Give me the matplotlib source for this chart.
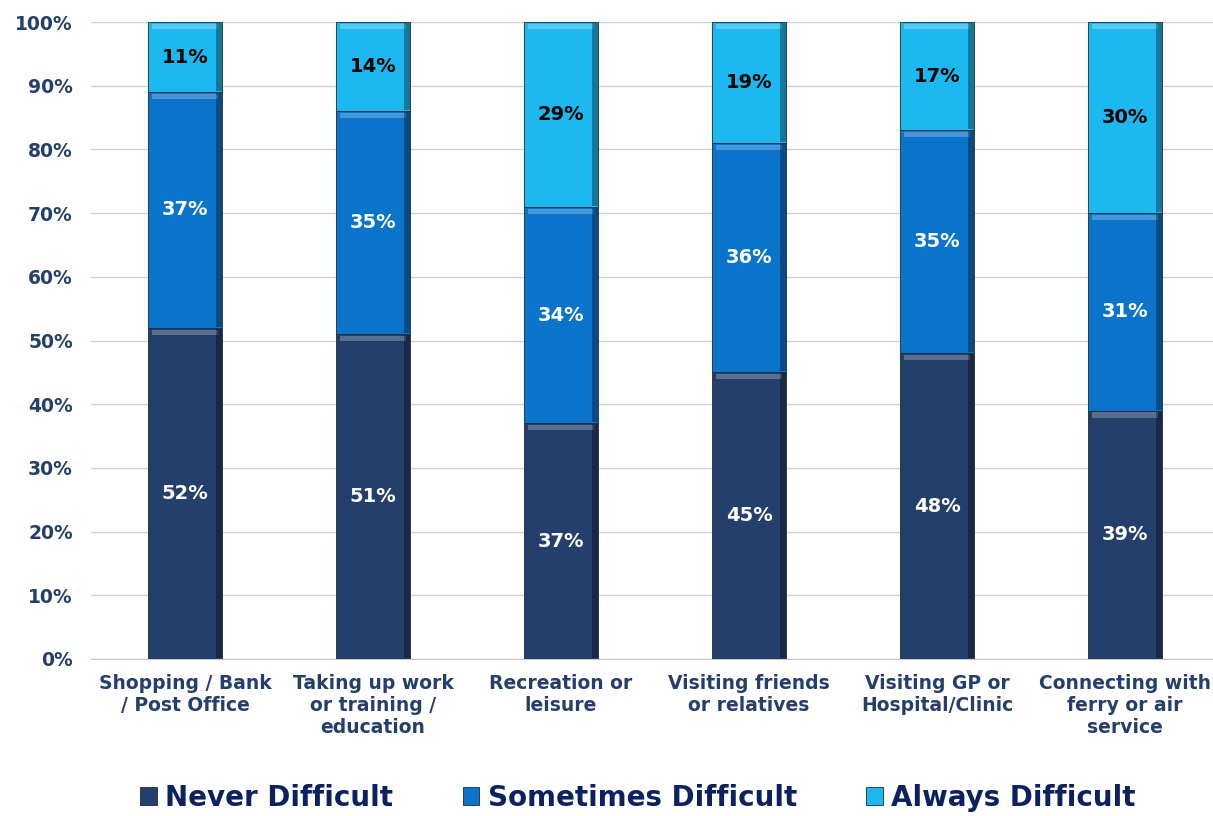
import numpy as np
import matplotlib
matplotlib.use('Agg')
import matplotlib.pyplot as plt

categories = ['Shopping / Bank\n/ Post Office', 'Taking up work\nor training /\neducation',
              'Recreation or\nleisure', 'Visiting friends\nor relatives',
              'Visiting GP or\nHospital/Clinic', 'Connecting with\nferry or air\nservice']
never = [52, 51, 37, 45, 48, 39]
sometimes = [37, 35, 34, 36, 35, 31]
always = [11, 14, 29, 19, 17, 30]
series_names = ['Never Difficult', 'Sometimes Difficult', 'Always Difficult']
yticks = [0, 10, 20, 30, 40, 50, 60, 70, 80, 90, 100]

colors = ['#243F6C', '#0A74CA', '#1BB9EF']
label_colors = ['white', 'white', 'black']
axis_col = '#243F6B'

plt.rcParams['font.family'] = 'DejaVu Sans'
plt.rcParams['font.weight'] = 'bold'

fig = plt.figure(figsize=(12.13, 8.16), dpi=100)
ax = fig.add_axes([91/1213, 157/816, 1128/1213, 637/816])

x = np.arange(len(categories))
w = 0.395
bottom = np.zeros(len(categories))
for vals, c, lc, name in zip([never, sometimes, always], colors, label_colors, series_names):
    vals = np.array(vals, dtype=float)
    ax.bar(x, vals, w, bottom=bottom, color=c, edgecolor='#1a2a40', linewidth=0.6,
           label=name, zorder=3)
    # simple bevel: lighter top band and darker right band
    ax.bar(x, np.full(len(x), 0.8), w * 0.9, bottom=bottom + vals - 1.1, color='white',
           alpha=0.25, linewidth=0, zorder=4)
    ax.bar(x + w * 0.46, vals - 0.3, w * 0.08, bottom=bottom + 0.15, color='black',
           alpha=0.35, linewidth=0, zorder=4)
    for xi, v, b in zip(x, vals, bottom):
        ax.text(xi, b + v / 2, '%d%%' % v, ha='center', va='center', color=lc,
                fontsize=14, fontweight='bold', zorder=5)
    bottom += vals

ax.set_xlim(-0.5, len(categories) - 0.5)
ax.set_ylim(0, 100)
ax.set_yticks(yticks)
ax.set_yticklabels(['%d%%' % t for t in yticks])
ax.set_xticks(x)
ax.set_xticklabels(categories, linespacing=1.2)
ax.tick_params(axis='both', length=0, labelsize=13.5, labelcolor=axis_col)
ax.tick_params(axis='y', pad=13)
ax.tick_params(axis='x', pad=11)
for lab in ax.get_xticklabels() + ax.get_yticklabels():
    lab.set_fontweight('bold')
ax.grid(axis='y', color='#D0D0D0', linewidth=1, zorder=0)
for s in ['top', 'right', 'left']:
    ax.spines[s].set_visible(False)
ax.spines['bottom'].set_color('#C8C8C8')

leg = fig.legend(loc='center', bbox_to_anchor=(0.526, 0.022), ncol=3, frameon=False,
                 prop={'size': 20, 'weight': 'bold'}, handlelength=0.6, handleheight=0.6,
                 handletextpad=0.3, columnspacing=2.5, borderpad=0)
for t in leg.get_texts():
    t.set_color('#0B2160')

fig.savefig('out.png', dpi=100)
